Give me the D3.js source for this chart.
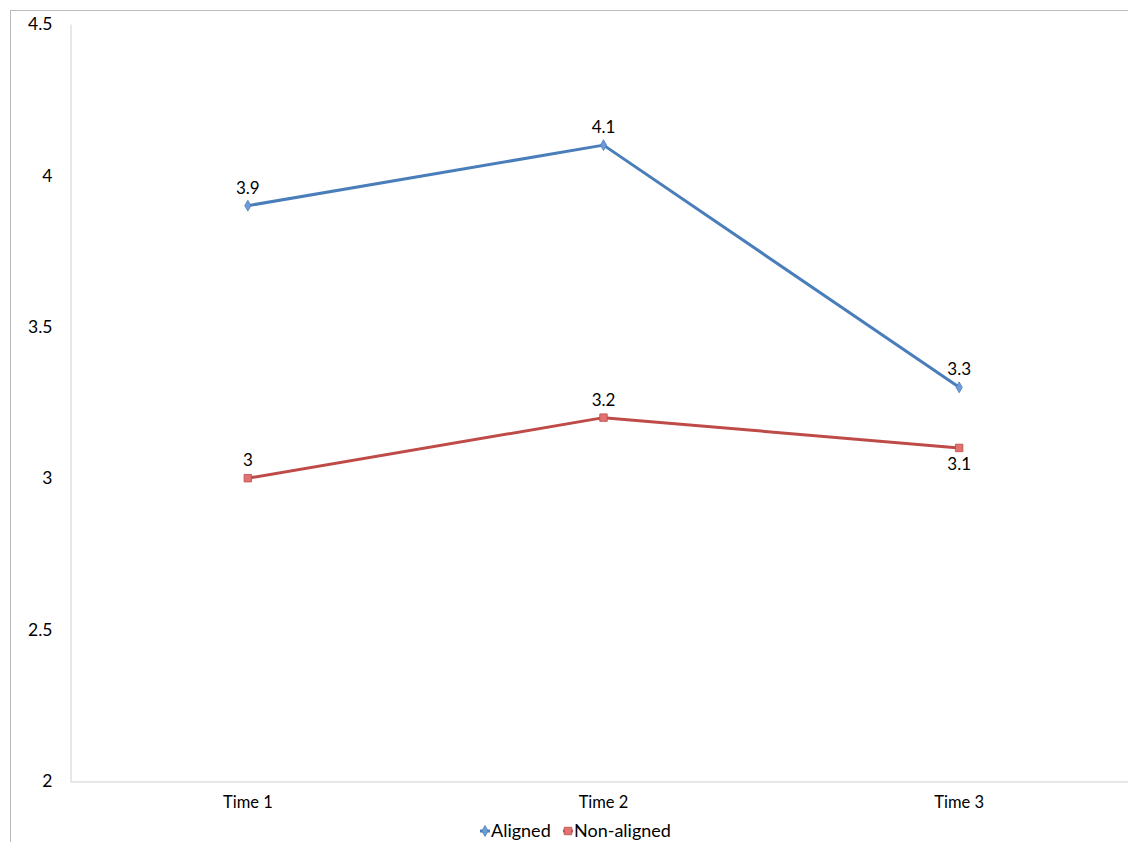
<!DOCTYPE html>
<html>
<head>
<meta charset="utf-8">
<script src="https://cdn.jsdelivr.net/npm/d3@7"></script>
<style>
  html, body { margin: 0; padding: 0; background: #fff; }
  svg text { font-family: Lato, "Open Sans", sans-serif; fill: #000; }
</style>
</head>
<body>
<svg id="chart" width="1128" height="842"></svg>
<script>
// Chart data
const categories = ["Time 1", "Time 2", "Time 3"];
const aligned = [3.9, 4.1, 3.3];
const nonAligned = [3.0, 3.2, 3.1];
const yTicks = [2, 2.5, 3, 3.5, 4, 4.5];
const seriesNames = ["Aligned", "Non-aligned"];
// label placement per point: above (-1) or below (+1)
const nonAlignedLabelSide = [-1, -1, 1];

const svg = d3.select("#chart");

// outer chart frame
svg.append("rect")
  .attr("x", 10.5).attr("y", 10.5)
  .attr("width", 1140).attr("height", 860)
  .attr("fill", "none").attr("stroke", "#bcbcbc").attr("stroke-width", 1);

const plot = { left: 70, right: 1137, top: 24, bottom: 781 };

const x = d3.scaleBand().domain(categories).range([plot.left, plot.right]);
const y = d3.scaleLinear().domain([2, 4.5]).range([plot.bottom, plot.top]);
const cx = c => x(c) + x.bandwidth() / 2;

// y axis
const yAxis = svg.append("g")
  .attr("transform", `translate(${plot.left + 0.5},0)`)
  .call(d3.axisLeft(y).tickValues(yTicks).tickSize(0).tickPadding(18)
    .tickFormat(d3.format("~g")));
yAxis.select(".domain").attr("stroke", "#d0d0d0");
yAxis.selectAll("text").attr("font-size", 17.5)
  .attr("font-family", "Lato, 'Open Sans', sans-serif");

// x axis
const xAxis = svg.append("g")
  .attr("transform", `translate(0,${plot.bottom + 0.5})`)
  .call(d3.axisBottom(x).tickSize(0).tickPadding(15));
xAxis.select(".domain").attr("stroke", "#d0d0d0");
xAxis.selectAll("text").attr("font-size", 16.5)
  .attr("font-family", "Lato, 'Open Sans', sans-serif");

const series = [
  { name: seriesNames[0], values: aligned, color: "#4a7ebb", fill: "#6f9bd6", shape: d3.symbolDiamond, size: 34, side: [-1, -1, -1] },
  { name: seriesNames[1], values: nonAligned, color: "#be4b48", fill: "#e07370", shape: d3.symbolSquare, size: 56, side: nonAlignedLabelSide }
];

const line = d3.line().x((d, i) => cx(categories[i])).y(d => y(d));

series.forEach(s => {
  svg.append("path")
    .datum(s.values)
    .attr("d", line)
    .attr("fill", "none")
    .attr("stroke", s.color)
    .attr("stroke-width", 3)
    .attr("stroke-linejoin", "round");

  svg.selectAll(null)
    .data(s.values)
    .join("path")
    .attr("transform", (d, i) => `translate(${cx(categories[i])},${y(d)})`)
    .attr("d", d3.symbol().type(s.shape).size(s.size))
    .attr("fill", s.fill)
    .attr("stroke", s.color)
    .attr("stroke-width", 0.8);

  svg.selectAll(null)
    .data(s.values)
    .join("text")
    .attr("x", (d, i) => cx(categories[i]))
    .attr("y", (d, i) => y(d) + (s.side[i] < 0 ? -12 : 22))
    .attr("text-anchor", "middle")
    .attr("font-size", 17)
    .text(d => d3.format("~g")(d));
});

// legend
const legend = svg.append("g").attr("transform", "translate(0,831)");
const legendItems = [
  { x: 485, s: series[0] },
  { x: 568, s: series[1] }
];
legendItems.forEach(({ x: lx, s }) => {
  legend.append("line")
    .attr("x1", lx - 5).attr("x2", lx + 5)
    .attr("y1", 0).attr("y2", 0)
    .attr("stroke", s.color).attr("stroke-width", 3);
  legend.append("path")
    .attr("transform", `translate(${lx},0)`)
    .attr("d", d3.symbol().type(s.shape).size(s.size))
    .attr("fill", s.fill).attr("stroke", s.color).attr("stroke-width", 0.8);
  legend.append("text")
    .attr("x", lx + 6).attr("y", 6)
    .attr("font-size", 18)
    .text(s.name);
});
</script>
</body>
</html>
